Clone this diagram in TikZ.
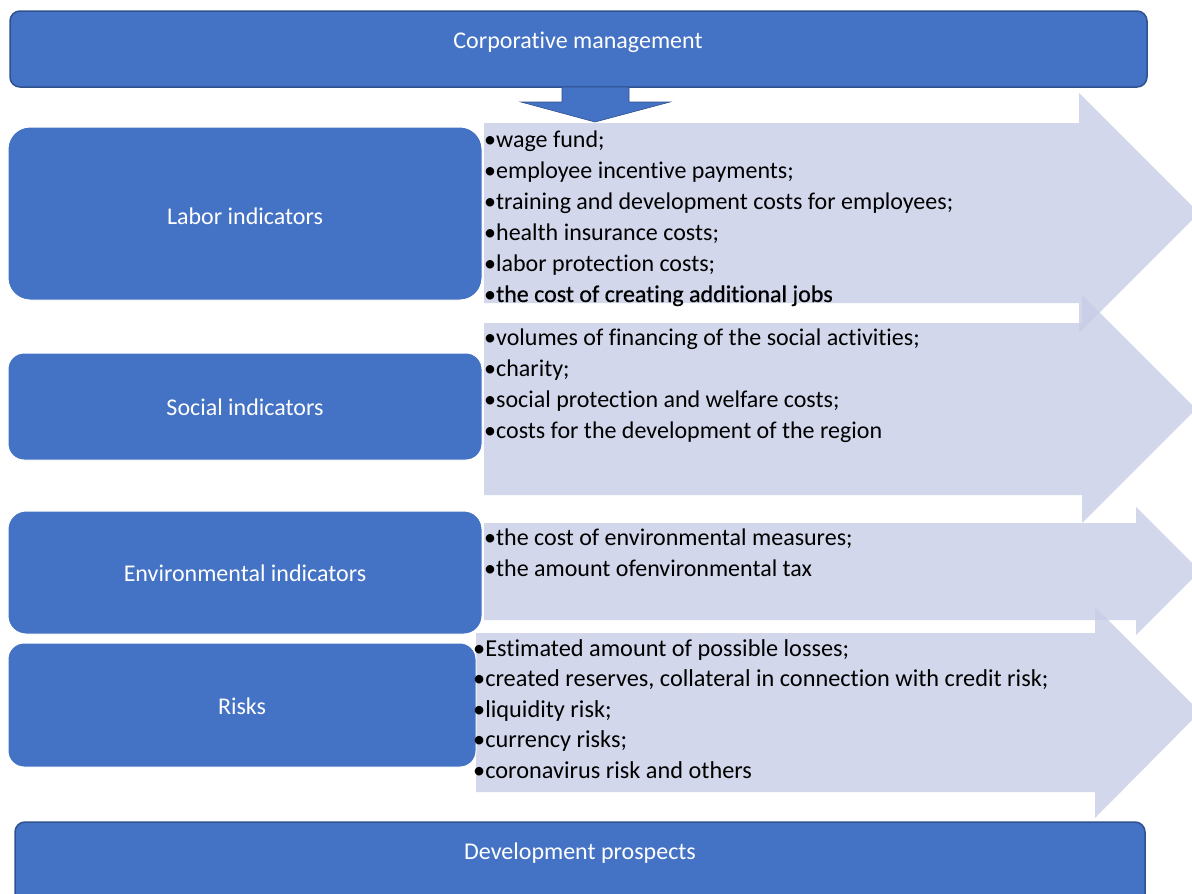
\documentclass[tikz,border=0pt]{standalone}
\usepackage{fontspec}
\setmainfont{Carlito}[Ligatures={NoCommon}]
\newfontfamily\heavyfont{Carlito}[Ligatures={NoCommon},FakeBold=0.6]
\definecolor{boxblue}{RGB}{68,114,196}
\definecolor{boxedge}{RGB}{47,82,143}
\definecolor{arrowc}{RGB}{200,206,230}
\begin{document}
\begin{tikzpicture}[x=1pt,y=-1pt,
  bigbox/.style={fill=boxblue,draw=boxedge,line width=1.5pt,rounded corners=10pt},
  sidebox/.style={fill=boxblue,draw=white,line width=1pt,rounded corners=18pt},
  boxlabel/.style={text=white,font=\fontsize{24}{28}\selectfont},
  fatarrow/.style={fill=arrowc,fill opacity=0.8},
  item/.style={anchor=base west,inner sep=0pt,font=\fontsize{24}{28}\selectfont},
  ritem/.style={anchor=base west,inner sep=0pt,font=\fontsize{24.3}{28}\selectfont}]
\clip (0,0) rectangle (1192,894);
\fill[white] (0,0) rectangle (1192,894);
% big arrows
\fill[fatarrow] (484,123) -- (1079,123) -- (1079,93) -- (1199,213) -- (1079,333) -- (1079,303) -- (484,303) -- cycle;
\fill[fatarrow] (484,323) -- (1082,323) -- (1082,295) -- (1196,409) -- (1082,523) -- (1082,495) -- (484,495) -- cycle;
\fill[fatarrow] (484,523) -- (1136,523) -- (1136,507) -- (1200,571) -- (1136,635) -- (1136,620) -- (484,620) -- cycle;
\fill[fatarrow] (476,633) -- (1095,633) -- (1095,607) -- (1200,712) -- (1095,818) -- (1095,792) -- (476,792) -- cycle;
% top and bottom boxes
\draw[bigbox] (10,11) rectangle (1147,87);
\node[boxlabel] (top) at (578,42) {Corporative management};
\draw[bigbox] (15,822) rectangle (1145,910);
\node[boxlabel] (bottom) at (580,853) {Development prospects};
% small down arrow
\fill[boxblue,draw=boxedge,line width=0.6pt] (562,87) -- (629,87) -- (629,102) -- (670,102) -- (595,122) -- (521,102) -- (562,102) -- cycle;
% side boxes
\draw[sidebox,rounded corners=22pt] (8,127) rectangle (482,300);
\node[boxlabel] (labor) at (245,216) {Labor indicators};
\draw[sidebox,rounded corners=16pt] (8,353) rectangle (482,460);
\node[boxlabel] (social) at (245,407) {Social indicators};
\draw[sidebox] (8,511) rectangle (482,634);
\node[boxlabel] (env) at (245,573) {Environmental indicators};
\draw[sidebox,rounded corners=16pt] (8,643) rectangle (476,767);
\node[boxlabel] (risks) at (242,706) {Risks};
% item lists
\foreach \t [count=\i] in {wage fund;, employee incentive payments;, training and development costs for employees;, health insurance costs;, labor protection costs;}
  \node[item] (lab\i) at (484,147+31*\i-31) {•\t};
\node[item] (lab6) at (484,302) {•{\heavyfont the cost of creating additional jobs}};
\foreach \t [count=\i] in {volumes of financing of the social activities;, charity;, social protection and welfare costs;, costs for the development of the region}
  \node[item] (soc\i) at (484,345+31*\i-31) {•\t};
\foreach \t [count=\i] in {the cost of environmental measures;, the amount ofenvironmental tax}
  \node[item] (envi\i) at (484,545+31*\i-31) {•\t};
\foreach \t [count=\i] in {Estimated amount of possible losses;, {created reserves, collateral in connection with credit risk;}, liquidity risk;, currency risks;, coronavirus risk and others}
  \node[ritem] (rsk\i) at (473,656+30.5*\i-30.5) {•\t};
\end{tikzpicture}
\end{document}
